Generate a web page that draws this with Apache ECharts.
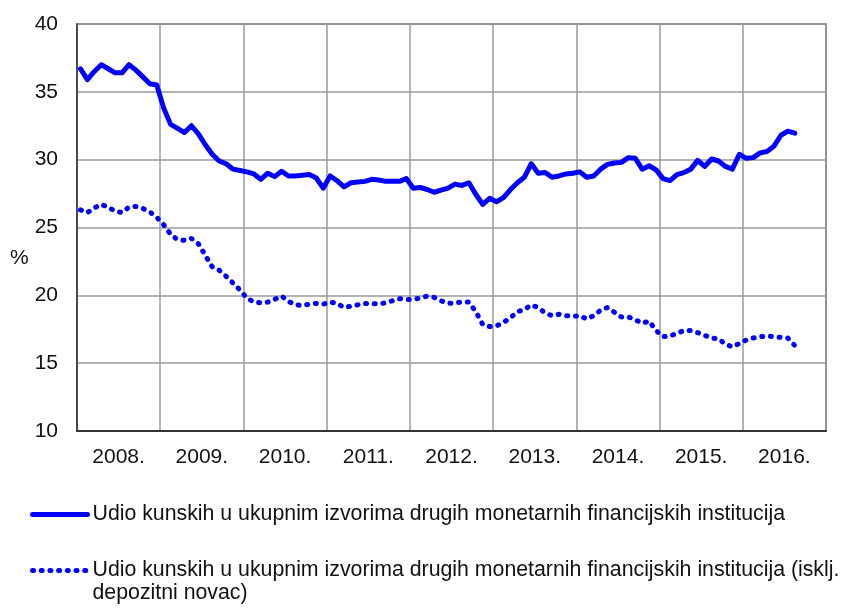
<!DOCTYPE html>
<html>
<head>
<meta charset="utf-8">
<script src="https://cdn.jsdelivr.net/npm/echarts@6/dist/echarts.min.js"></script>
<style>
  html, body { margin: 0; padding: 0; background: #fff; }
  #chart { width: 844px; height: 610px; }
</style>
</head>
<body>
<div id="chart"></div>
<script>
// godine na osi x (svaka godina = 12 mjeseci)
var years = ['2008.', '2009.', '2010.', '2011.', '2012.', '2013.', '2014.', '2015.', '2016.'];

// mjesečni podaci od siječnja 2008. do kolovoza 2016.
var udioKunskih = [
    36.7, 35.9, 36.5, 37.0, 36.7, 36.4, 36.4, 37.0, 36.6, 36.1, 35.6, 35.5,
    33.8, 32.6, 32.3, 32.0, 32.5, 31.9, 31.1, 30.4, 29.9, 29.7, 29.3, 29.2,
    29.1, 28.95, 28.55, 29.0, 28.75, 29.15, 28.8, 28.8, 28.85, 28.9, 28.65, 27.9,
    28.8, 28.45, 28.0, 28.3, 28.35, 28.4, 28.55, 28.5, 28.4, 28.4, 28.4, 28.6,
    27.9, 27.95, 27.8, 27.6, 27.75, 27.9, 28.2, 28.1, 28.3, 27.45, 26.7, 27.15,
    26.9, 27.2, 27.8, 28.3, 28.7, 29.7, 29.0, 29.05, 28.7, 28.8, 28.95, 29.0,
    29.1, 28.7, 28.8, 29.3, 29.65, 29.75, 29.8, 30.15, 30.1, 29.3, 29.55, 29.25,
    28.6, 28.45, 28.9, 29.05, 29.3, 29.95, 29.5, 30.05, 29.9, 29.5, 29.3, 30.4,
    30.1, 30.15, 30.5, 30.6, 31.0, 31.8, 32.1, 31.95
];

var udioBezDepozitnog = [
    26.3, 26.1, 26.45, 26.7, 26.5, 26.2, 26.1, 26.5, 26.55, 26.4, 26.15, 25.75,
    25.2, 24.5, 24.1, 24.05, 24.2, 23.8, 22.95, 22.1, 21.85, 21.4, 20.9, 20.4,
    19.8, 19.5, 19.45, 19.5, 19.7, 19.95, 19.55, 19.3, 19.25, 19.35, 19.4, 19.35,
    19.5, 19.4, 19.1, 19.2, 19.3, 19.4, 19.4, 19.35, 19.45, 19.6, 19.75, 19.7,
    19.7, 19.8, 19.95, 19.85, 19.6, 19.4, 19.45, 19.5, 19.5, 18.8, 17.85, 17.7,
    17.75, 18.0, 18.35, 18.8, 18.95, 19.3, 19.1, 18.7, 18.5, 18.6, 18.5, 18.45,
    18.5, 18.25, 18.5, 18.9, 19.1, 18.75, 18.4, 18.4, 18.2, 17.95, 18.1, 17.4,
    16.95, 17.0, 17.2, 17.4, 17.4, 17.25, 17.05, 16.85, 16.8, 16.4, 16.2, 16.45,
    16.7, 16.85, 16.95, 17.0, 16.95, 16.9, 16.85, 16.3
];

var nazivi = [
    'Udio kunskih u ukupnim izvorima drugih monetarnih financijskih institucija',
    'Udio kunskih u ukupnim izvorima drugih monetarnih financijskih institucija (isklj.\ndepozitni novac)'
];

var font = "'Liberation Sans', Arial, sans-serif";
var plava = '#0000ff';

// mjesec i -> sredina mjeseca na vrijednosnoj osi
function uTocke(arr) {
    return arr.map(function (v, i) { return [i + 0.5, v]; });
}

var chart = echarts.init(document.getElementById('chart'), null, { renderer: 'canvas' });

var legendaZajedno = {
    left: 30,
    padding: 0,
    itemWidth: 55,
    itemHeight: 20,
    itemStyle: { opacity: 0 },
    textStyle: { color: '#111', fontSize: 21.3, fontFamily: font, lineHeight: 23 }
};

var option = {
    animation: false,
    backgroundColor: '#fff',
    textStyle: { fontFamily: font },
    grid: {
        left: 77, right: 18, top: 24, bottom: 179,
        show: true,
        borderColor: '#555',
        borderWidth: 1.5
    },
    xAxis: [
        {
            type: 'value',
            min: 0,
            max: years.length * 12,
            interval: 12,
            axisLine: { show: true, onZero: false, lineStyle: { color: '#333', width: 2 } },
            axisTick: { show: false },
            axisLabel: { show: false },
            splitLine: { show: true, lineStyle: { color: '#9a9a9a', width: 1.5 } }
        },
        {
            type: 'category',
            data: years,
            position: 'bottom',
            boundaryGap: true,
            axisLine: { show: false },
            axisTick: { show: false },
            splitLine: { show: false },
            axisLabel: { color: '#111', fontSize: 21, fontFamily: font, margin: 16 }
        }
    ],
    yAxis: {
        type: 'value',
        min: 10,
        max: 40,
        interval: 5,
        // prazan gornji red spušta znak % ispod sredine osi
        name: ' \n%',
        nameLocation: 'middle',
        nameRotate: 0,
        nameGap: 48,
        nameTextStyle: { color: '#111', fontSize: 21, fontFamily: font, lineHeight: 61 },
        axisLine: { show: true, lineStyle: { color: '#333', width: 1.5 } },
        axisTick: { show: false },
        axisLabel: { color: '#111', fontSize: 21, fontFamily: font, margin: 19 },
        splitLine: { show: true, lineStyle: { color: '#9a9a9a', width: 1.5 } }
    },
    legend: [
        echarts.util.merge({
            data: [nazivi[0]],
            top: 503,
            lineStyle: { width: 5 }
        }, legendaZajedno),
        echarts.util.merge({
            data: [nazivi[1]],
            top: 536,
            lineStyle: { width: 5 },
            // prazan prvi red da ikona stoji uz prvi red teksta
            formatter: function (name) { return ' \n' + name; }
        }, legendaZajedno)
    ],
    series: [
        {
            name: nazivi[0],
            type: 'line',
            xAxisIndex: 0,
            data: uTocke(udioKunskih),
            symbol: 'none',
            lineStyle: { color: plava, width: 5, join: 'round', cap: 'round' },
            itemStyle: { color: plava }
        },
        {
            name: nazivi[1],
            type: 'line',
            xAxisIndex: 0,
            data: uTocke(udioBezDepozitnog),
            symbol: 'none',
            lineStyle: { color: plava, width: 5, type: [1, 7.7], cap: 'round' },
            itemStyle: { color: plava }
        }
    ]
};

chart.setOption(option);
</script>
</body>
</html>
